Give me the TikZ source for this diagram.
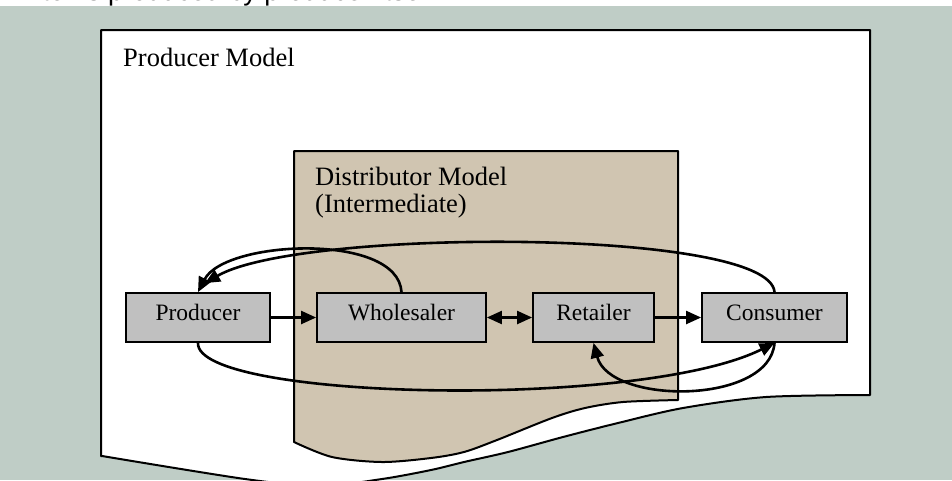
\documentclass[tikz,border=0pt]{standalone}
\usepackage{fontspec}
\setmainfont{Liberation Serif}
\newfontfamily\headfont{Liberation Sans}
\usetikzlibrary{arrows.meta,calc}
\definecolor{canvas}{RGB}{191,205,198}
\definecolor{distfill}{RGB}{208,197,177}
\definecolor{boxgray}{RGB}{192,192,192}
\tikzset{
  actor/.style={draw=black, line width=1.8pt, fill=boxgray, inner sep=0pt,
    minimum height=49pt, font=\fontsize{23.5}{28}\selectfont,
    text height=0.68em, text depth=0pt},
  tipshape/.tip={Triangle[length=15pt,width=13pt]},
  flow/.style={line width=2.2pt, -tipshape},
  loop/.style={line width=2.6pt, -tipshape},
  flowboth/.style={line width=2.2pt, tipshape-tipshape},
  region/.style={draw=black, line width=2pt, line join=round},
  regionlabel/.style={anchor=base west, inner sep=0pt,
    font=\fontsize{26.5}{30}\selectfont},
}
\begin{document}
\begin{tikzpicture}[x=1pt, y=-1pt]
  \useasboundingbox (0,0) rectangle (952,480);
  \begin{scope}
    \clip (0,0) rectangle (952,480);
    % page strip and canvas
    \fill[white] (0,0) rectangle (952,6);
    \fill[canvas] (0,6) rectangle (952,480);
    % running caption, cut by the top edge
    \begin{scope}
      \clip (0,0) rectangle (952,6);
      \node[anchor=base west, inner sep=0pt,
        font=\headfont\fontsize{27}{30}\selectfont] (caption) at (34.5,0.4)
        {Items produced by producer itself};
    \end{scope}
    % producer model sheet
    \draw[region, fill=white] (101,456) -- (101,30) -- (870,30) -- (870,395)
      -- plot[smooth, tension=0.5] coordinates {(870,395) (766,397) (683,408)
        (618,423) (563,437) (508,452) (464,462) (431,470) (382,479) (320,486)
        (245,479) (102,456)} -- cycle;
    % distributor model sheet
    \draw[region, fill=distfill] (294,442) -- (294,151) -- (678,151) -- (678,400)
      -- plot[smooth, tension=0.5] coordinates {(678,400) (623,402) (585,408)
        (552,418) (497,440) (464,452) (431,458) (382,462) (332,457) (294,442)}
      -- cycle;
  \end{scope}

  \node[regionlabel] (pmlabel) at (123,66.5) {Producer Model};
  \node[regionlabel] (dmlabel) at (315,185) {Distributor Model};
  \node[regionlabel] (dmsub) at (315,212) {(Intermediate)};

  % actors
  \node[actor, minimum width=144pt] (prod) at (198,317.5) {Producer};
  \node[actor, minimum width=169pt] (whole) at (401.5,317.5) {Wholesaler};
  \node[actor, minimum width=121pt] (ret) at (593.5,317.5) {Retailer};
  \node[actor, minimum width=145pt] (cons) at (774.5,317.5) {Consumer};

  % chain
  \draw[flow] (prod.east) -- (whole.west);
  \draw[flowboth] (whole.east) -- (ret.west);
  \draw[flow] (ret.east) -- (cons.west);

  % feedback and bypass loops
  \draw[loop] (whole.north) .. controls (398,232) and (225,240) .. (prod.north);
  \draw[loop] (cons.north) .. controls (770,228) and (300,228) .. ($(prod.north)+(7,-9)$);
  \draw[loop] (prod.south) .. controls (195,400) and (640,410) .. (cons.south);
  \draw[loop] (cons.south) .. controls (770,405) and (610,405) .. (ret.south);
\end{tikzpicture}
\end{document}
